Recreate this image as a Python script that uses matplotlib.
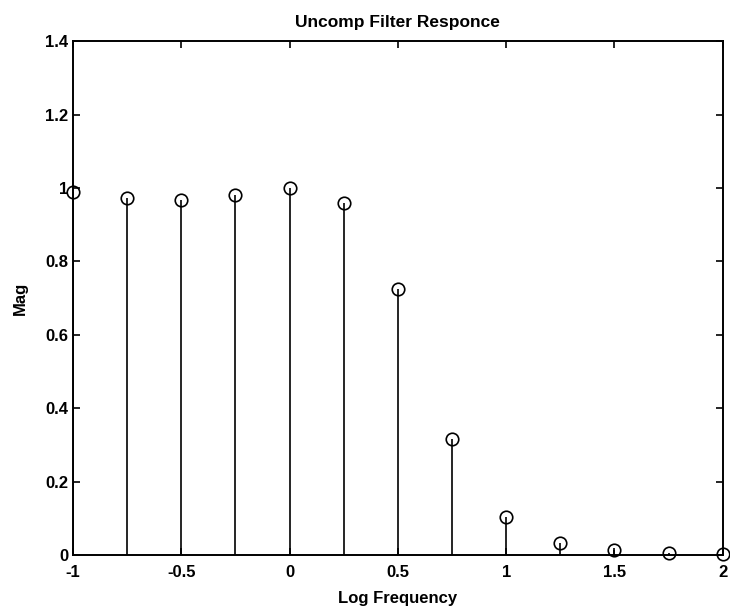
import numpy as np
import matplotlib.pyplot as plt

plt.rcParams['font.family'] = ['Liberation Sans', 'DejaVu Sans']

# log frequency points and magnitude
log_freq = [-1.0, -0.75, -0.5, -0.25, 0.0, 0.25, 0.5, 0.75, 1.0, 1.25, 1.5, 1.75, 2.0]
mag = [0.99, 0.973, 0.967, 0.98, 1.0, 0.959, 0.725, 0.316, 0.104, 0.033, 0.015, 0.006, 0.002]

x_ticks = [-1, -0.5, 0, 0.5, 1, 1.5, 2]
x_labels = ['-1', '-0.5', '0', '0.5', '1', '1.5', '2']
y_ticks = [0, 0.2, 0.4, 0.6, 0.8, 1.0, 1.2, 1.4]
y_labels = ['0', '0.2', '0.4', '0.6', '0.8', '1', '1.2', '1.4']

fig = plt.figure(figsize=(7.3, 6.16), dpi=100)
ax = fig.add_axes([0.1, 0.099, 0.89, 0.834])

markerline, stemlines, baseline = ax.stem(log_freq, mag, linefmt='k-', markerfmt='ko', basefmt=' ')
stemlines.set_linewidth(1.2)
markerline.set_markerfacecolor('none')
markerline.set_markersize(9)
markerline.set_markeredgewidth(1.2)
markerline.set_clip_on(False)

ax.set_xlim(-1, 2)
ax.set_ylim(0, 1.4)
ax.set_xticks(x_ticks)
ax.set_xticklabels(x_labels, fontweight='bold')
ax.set_yticks(y_ticks)
ax.set_yticklabels(y_labels, fontweight='bold')
ax.tick_params(direction='in', top=True, right=True, labelsize=12, length=5, width=1.2)
ax.tick_params(axis='x', pad=7)
for s in ax.spines.values():
    s.set_linewidth(1.4)

ax.set_title('Uncomp Filter Responce', fontsize=12.5, fontweight='bold', pad=10)
ax.set_xlabel('Log Frequency', fontsize=12, fontweight='bold', labelpad=8)
ax.set_ylabel('Mag', fontsize=12, fontweight='bold', labelpad=12)

fig.savefig('out.png', dpi=100)
